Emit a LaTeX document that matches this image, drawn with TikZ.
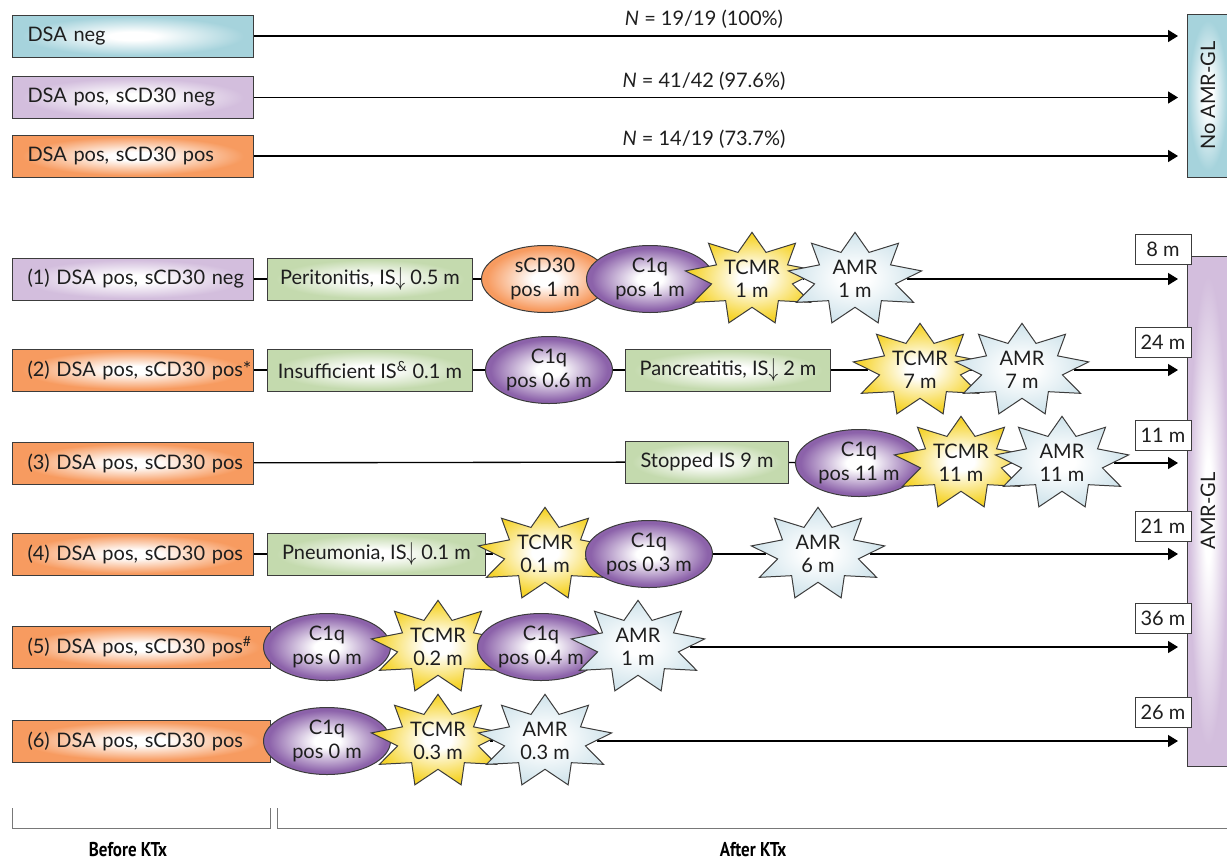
\documentclass[tikz,border=0pt]{standalone}
\usepackage{fontspec}
\setmainfont{Lato}
\newfontfamily\labfont{PT Sans}
\usetikzlibrary{shapes.geometric,arrows.meta,backgrounds}
\definecolor{cblue}{RGB}{166,211,220}
\definecolor{cpurp}{RGB}{211,190,221}
\definecolor{corange}{RGB}{247,155,96}
\definecolor{cgreen}{RGB}{196,218,174}
\definecolor{cviolet}{RGB}{140,98,170}
\definecolor{cyellow}{RGB}{246,212,44}
\definecolor{camr}{RGB}{212,230,237}
\definecolor{boxline}{RGB}{60,60,60}
\definecolor{txt}{RGB}{30,30,30}
\definecolor{brk}{RGB}{120,120,120}
\colorlet{glowout}{white}
\pgfdeclareradialshading[glowout]{glow}{\pgfpointorigin}{color(0bp)=(white); color(5bp)=(white); color(23bp)=(glowout); color(50bp)=(glowout)}
\newcommand\isdown{\raisebox{-0.5pt}{\scalebox{1}[1.35]{$\downarrow$}}}
\tikzset{
  x=0.75pt, y=-0.75pt,
  setglow/.code={\colorlet{glowout}{#1}},
  tfont/.style={font=\fontsize{15}{17.5}\selectfont},
  base/.style={draw=boxline, line width=0.75pt, shading=glow, text=txt, tfont},
  lbox/.style={base, rectangle, minimum height=31.5pt, text width=#1, inner xsep=11.25pt, inner ysep=0pt, align=left, anchor=west},
  lbox/.default=158.25pt,
  gbox/.style={base, setglow=cgreen, rectangle, minimum height=31.5pt, minimum width=#1, inner sep=0pt, anchor=west},
  ell/.style={base, setglow=cviolet, ellipse, minimum width=95.25pt, minimum height=50.25pt, inner sep=0pt, align=center, font=\fontsize{15}{18.5}\selectfont},
  oell/.style={ell, setglow=corange},
  starn/.style={base, star, star points=9, star point ratio=1.65, minimum size=70pt, inner sep=0pt, transform shape, xscale=1.45},
  tcmr/.style={starn, setglow=cyellow},
  amr/.style={starn, setglow=camr},
  stext/.style={text=txt, tfont, align=center, inner sep=0pt},
  tbox/.style={draw=boxline, line width=0.75pt, fill=white, text=txt, tfont, minimum width=42pt, minimum height=22.5pt, inner sep=0pt},
  side/.style={base, rectangle, minimum width=31.5pt, inner sep=0pt},
  conn/.style={draw=black, line width=1pt},
  arr/.style={conn, -{Triangle[length=7.5pt,width=9pt]}},
  lab/.style={above, inner sep=0pt, yshift=5pt, text=txt, tfont},
  brack/.style={draw=brk, line width=0.75pt},
  klab/.style={text=black, font=\labfont\bfseries\fontsize{15}{17}\selectfont}
}
\newcommand\mkstar[5]{%
  \begin{scope}[shift={(#2,#3)}]\node[#4] (#1) at (0,0) {};\end{scope}
  \node[stext] (#1t) at (#1) {#5};}
\begin{document}
\begin{tikzpicture}
\useasboundingbox (0,0) rectangle (1227,864);
% top section
\node[lbox, setglow=cblue] (g1) at (12,36) {DSA neg};
\node[lbox, setglow=cpurp] (g2) at (12,97.5) {DSA pos, sCD30 neg};
\node[lbox, setglow=corange] (g3) at (12,156) {DSA pos, sCD30 pos};
\node[side, setglow=cblue, minimum height=122.25pt] (noamr) at (1208,95.5) {};
\node[rotate=90, text=txt, tfont] (noamrt) at (noamr) {No AMR-GL};
\coordinate (e1) at (1178,36);
\coordinate (e2) at (1178,97.5);
\coordinate (e3) at (1178,156);
\draw[arr] (g1) -- (e1) node[lab, pos=0.487] (l1) {\textit{N} = 19/19 (100\%)};
\draw[arr] (g2) -- (e2) node[lab, pos=0.487] (l2) {\textit{N} = 41/42 (97.6\%)};
\draw[arr] (g3) -- (e3) node[lab, pos=0.487] (l3) {\textit{N} = 14/19 (73.7\%)};

% AMR-GL side box
\node[side, setglow=cpurp, minimum height=382.5pt] (amrgl) at (1208,511) {};
\node[rotate=90, text=txt, tfont] (amrglt) at (amrgl) {AMR-GL};

% row 1
\node[lbox, setglow=cpurp] (r1) at (12,279) {\mbox{(1) DSA pos, sCD30 neg}};
\node[gbox=153.75pt] (p1) at (267,279) {Peritonitis, IS\isdown{} 0.5 m};
\node[oell] (e1a) at (545,279) {sCD30\\pos 1 m};
\node[ell] (e1b) at (650,279) {C1q\\pos 1 m};
\mkstar{s1a}{752}{279}{tcmr}{TCMR\\1 m}
\mkstar{s1b}{855}{279}{amr}{AMR\\1 m}
\coordinate (f1) at (1178,279);

% row 2
\node[lbox, setglow=corange] (r2) at (12,370) {\mbox{(2) DSA pos, sCD30 pos*}};
\node[gbox=153.75pt] (p2a) at (267,370) {Insufficient IS\textsuperscript{\&} 0.1 m};
\node[ell] (e2) at (549,370) {C1q\\pos 0.6 m};
\node[gbox=153.75pt] (p2b) at (625,370) {Pancreatitis, IS\isdown{} 2 m};
\mkstar{s2a}{920}{370}{tcmr}{TCMR\\7 m}
\mkstar{s2b}{1022}{370}{amr}{AMR\\7 m}
\coordinate (f2) at (1178,370);

% row 3
\node[lbox, setglow=corange] (r3) at (12,463) {\mbox{(3) DSA pos, sCD30 pos}};
\node[gbox=122.25pt] (p3) at (625,462) {Stopped IS 9 m};
\node[ell] (e3) at (859,463) {C1q\\pos 11 m};
\mkstar{s3a}{961}{463}{tcmr}{TCMR\\11 m}
\mkstar{s3b}{1062}{463}{amr}{AMR\\11 m}
\coordinate (f3) at (1178,463);

% row 4
\node[lbox, setglow=corange] (r4) at (12,554) {\mbox{(4) DSA pos, sCD30 pos}};
\node[gbox=163.5pt] (p4) at (267,554) {Pneumonia, IS\isdown{} 0.1 m};
\mkstar{s4a}{545}{554}{tcmr}{TCMR\\0.1 m}
\node[ell] (e4) at (649,554) {C1q\\pos 0.3 m};
\mkstar{s4b}{818}{554}{amr}{AMR\\6 m}
\coordinate (f4) at (1178,554);

% row 5
\node[lbox=171pt, setglow=corange] (r5) at (12,647) {\mbox{(5) DSA pos, sCD30 pos\textsuperscript{\#}}};
\node[ell] (e5a) at (327,647) {C1q\\pos 0 m};
\mkstar{s5a}{438}{647}{tcmr}{TCMR\\0.2 m}
\node[ell] (e5b) at (541,647) {C1q\\pos 0.4 m};
\mkstar{s5b}{638}{647}{amr}{AMR\\1 m}
\coordinate (f5) at (1178,647);

% row 6
\node[lbox=171pt, setglow=corange] (r6) at (12,741) {\mbox{(6) DSA pos, sCD30 pos}};
\node[ell] (e6) at (327,741) {C1q\\pos 0 m};
\mkstar{s6a}{438}{741}{tcmr}{TCMR\\0.3 m}
\mkstar{s6b}{545}{741}{amr}{AMR\\0.3 m}
\coordinate (f6) at (1178,741);

% time boxes
\node[tbox] (t1) at (1163,249) {8 m};
\node[tbox] (t2) at (1163,342) {24 m};
\node[tbox] (t3) at (1163,435) {11 m};
\node[tbox] (t4) at (1163,526) {21 m};
\node[tbox] (t5) at (1163,618) {36 m};
\node[tbox] (t6) at (1163,712) {26 m};

\begin{scope}[on background layer]
\draw[conn] (r1) -- (p1) -- (e1a) -- (e1b) -- (s1a) -- (s1b);
\draw[arr] (s1b) -- (f1);
\draw[conn] (r2) -- (p2a) -- (e2) -- (p2b) -- (s2a) -- (s2b);
\draw[arr] (s2b) -- (f2);
\draw[conn] (r3) -- (p3) -- (e3) -- (s3a) -- (s3b);
\draw[arr] (s3b) -- (f3);
\draw[conn] (r4) -- (p4) -- (s4a) -- (e4) -- (s4b);
\draw[arr] (s4b) -- (f4);
\draw[conn] (r5) -- (e5a) -- (s5a) -- (e5b) -- (s5b);
\draw[arr] (s5b) -- (f5);
\draw[conn] (r6) -- (e6) -- (s6a) -- (s6b);
\draw[arr] (s6b) -- (f6);
\end{scope}

% brackets
\coordinate (b1) at (12,808);
\coordinate (b2) at (12,828);
\coordinate (b3) at (270,828);
\coordinate (b4) at (270,808);
\coordinate (a1) at (277,808);
\coordinate (a2) at (277,828);
\coordinate (a3) at (1232,828);
\draw[brack] (b1) -- (b2) -- (b3) -- (b4);
\draw[brack] (a1) -- (a2) -- (a3);
\node[klab] (bk) at (128,850) {\scalebox{0.85}[1]{Before KTx}};
\node[klab] (ak) at (753,850) {\scalebox{0.85}[1]{After KTx}};
\end{tikzpicture}
\end{document}
